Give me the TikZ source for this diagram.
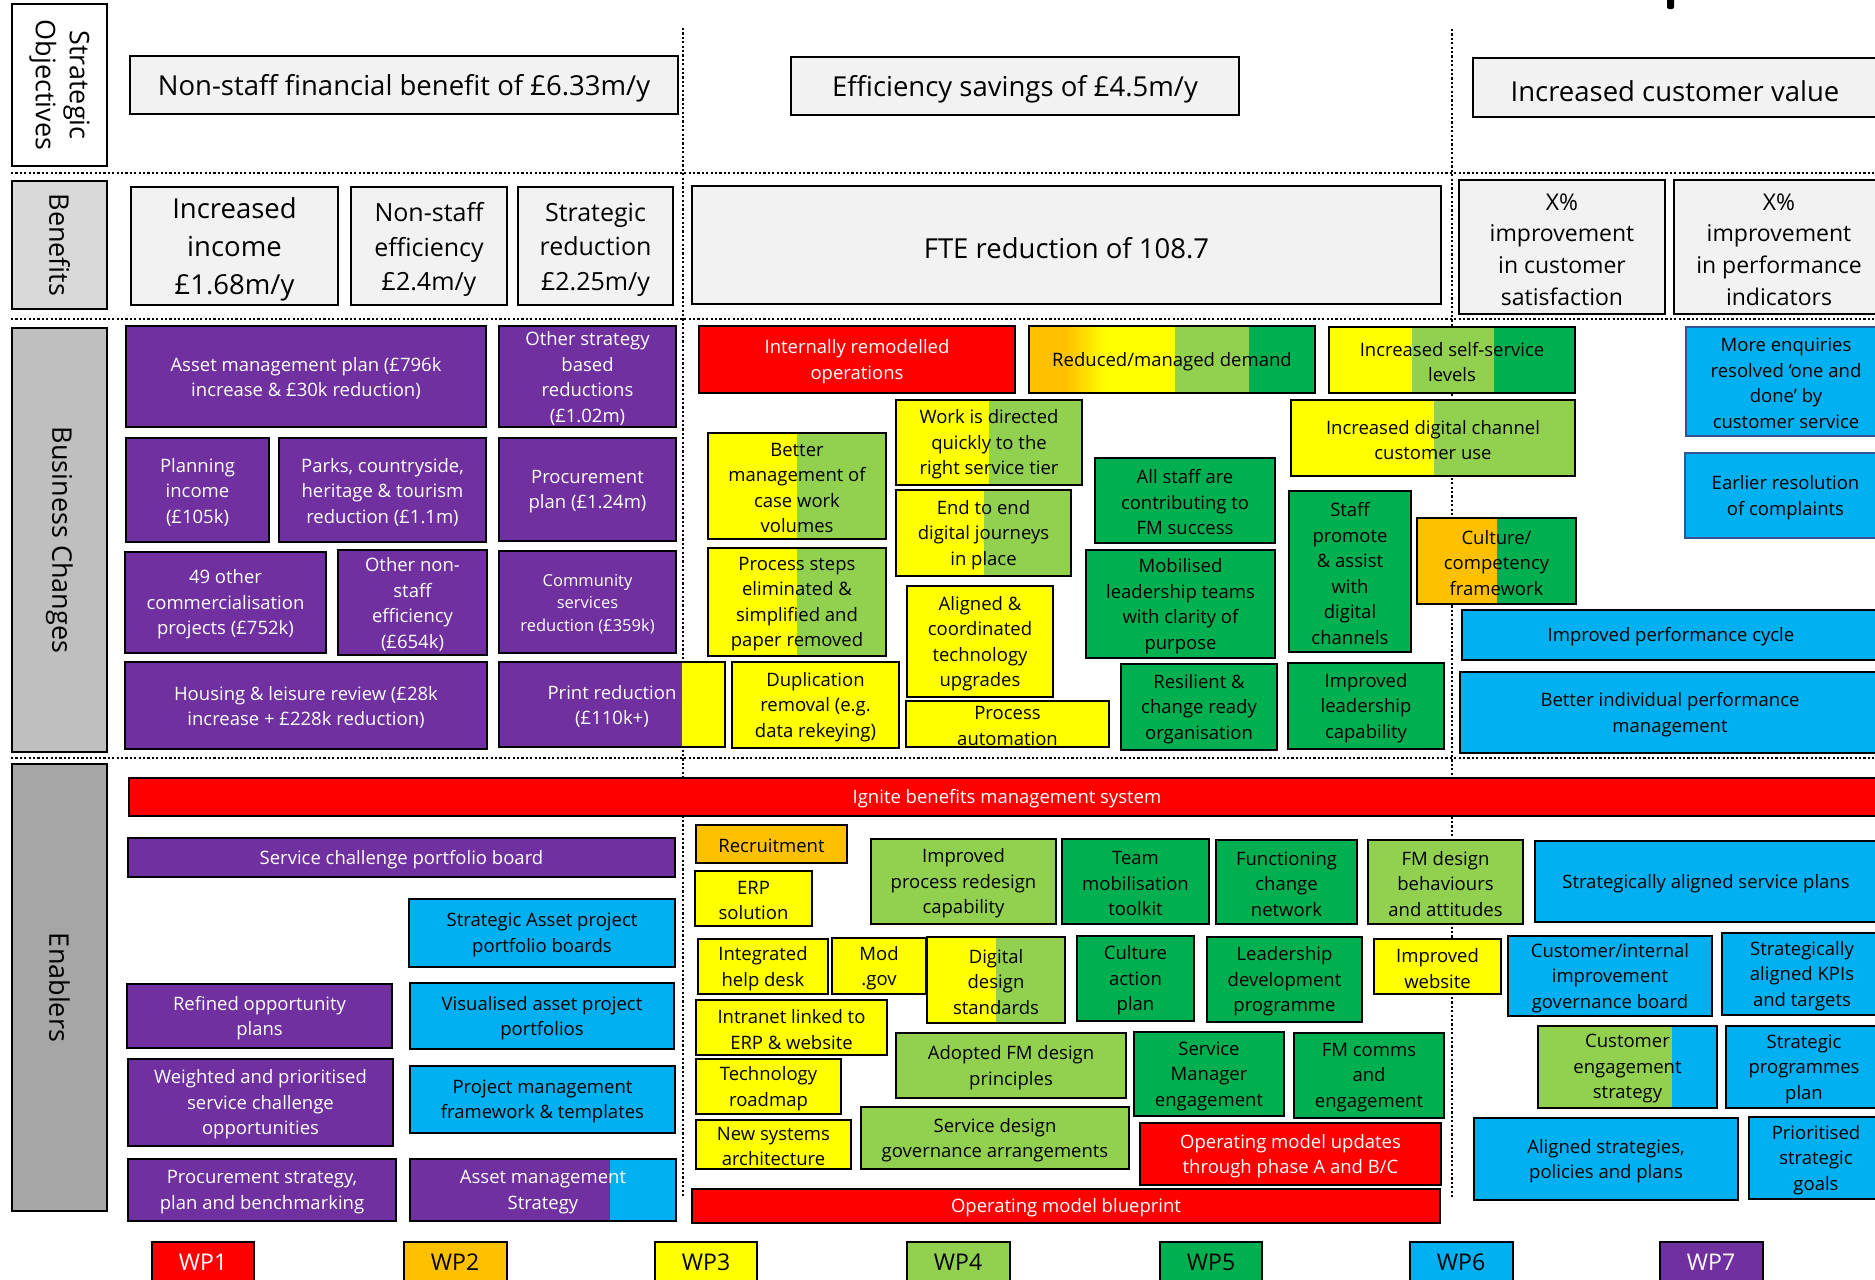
\documentclass[tikz,border=0pt]{standalone}
\usepackage{fontspec}
\setmainfont{Open Sans}

\definecolor{cPurple}{HTML}{7030A0}
\definecolor{cRed}{HTML}{FF0000}
\definecolor{cOrange}{HTML}{FFC000}
\definecolor{cYellow}{HTML}{FFFF00}
\definecolor{cLGreen}{HTML}{92D050}
\definecolor{cGreen}{HTML}{00B050}
\definecolor{cBlue}{HTML}{00B0F0}
\definecolor{cBlueLine}{HTML}{2F5597}
\definecolor{cPale}{HTML}{F2F2F2}
\definecolor{cGreyA}{HTML}{D9D9D9}
\definecolor{cGreyB}{HTML}{BFBFBF}
\definecolor{cGreyC}{HTML}{A6A6A6}

\tikzset{
  card/.style={rectangle, draw=black, line width=2.6pt, inner sep=0pt, outer sep=0pt},
  tbase/.style={align=center, inner sep=0pt, text=black},
  tb/.style={tbase, yshift=-2pt, font=\fontsize{18.5}{25.5}\selectfont},
  tw/.style={tb, text=white},
  tsm/.style={tw, font=\fontsize{16.5}{22.5}\selectfont},
  tobj/.style={tbase, yshift=-3.5pt, font=\fontsize{27.5}{38}\selectfont},
  tben/.style={tbase, yshift=-3.5pt, font=\fontsize{25}{34.5}\selectfont},
  tpct/.style={tbase, yshift=-2.5pt, font=\fontsize{23}{31.7}\selectfont},
  tlab/.style={tbase, rotate=-90, font=\fontsize{27}{34}\selectfont},
  twp/.style={tbase, font=\fontsize{23}{28}\selectfont},
  twpw/.style={twp, text=white},
  sepline/.style={line width=2.2pt, dash pattern=on 2.2pt off 2.2pt},
}

% box: name, box options, x1, y1, x2, y2, text style, text
\newcommand\card[8]{%
  \node[card,#2,minimum width={(#5)-(#3)},minimum height={(#6)-(#4)}] (#1)
    at ({((#3)+(#5))/2},{((#4)+(#6))/2}) {};
  \node[#7] (#1-t) at (#1.center) {#8};}
% plain colour band inside a box
\newcommand\band[5]{\fill[#1] (#2,#3) rectangle (#4,#5);}

\begin{document}
\begin{tikzpicture}[x=1pt,y=-1pt]
\useasboundingbox (0,0) rectangle (1875,1280);
\fill[white] (0,0) rectangle (1875,1280);
\clip (0,0) rectangle (1875,1280);

% row and column separators
\coordinate (h1a) at (11,173);  \coordinate (h1b) at (1875,173);
\coordinate (h2a) at (11,319);  \coordinate (h2b) at (1875,319);
\coordinate (h3a) at (11,758);  \coordinate (h3b) at (1875,758);
\coordinate (v1a) at (683,28);  \coordinate (v1b) at (683,1198);
\coordinate (v2a) at (1452,29); \coordinate (v2b) at (1452,1198);
\draw[sepline] (h1a) -- (h1b);
\draw[sepline] (h2a) -- (h2b);
\draw[sepline] (h3a) -- (h3b);
\draw[sepline] (v1a) -- (v1b);
\draw[sepline] (v2a) -- (v2b);

% mark at the top edge
\fill[black, rounded corners=2pt] (1667,-4) rectangle (1674,9);

% row labels
\card{labSO}{fill=white}{12}{4}{107}{166}{tlab}{Strategic\\Objectives}
\card{labBen}{fill=cGreyA}{12}{181}{107}{309}{tlab}{Benefits}
\card{labBC}{fill=cGreyB}{12}{328}{107}{752}{tlab}{Business Changes}
\card{labEn}{fill=cGreyC}{12}{764}{107}{1211}{tlab}{Enablers}

% strategic objectives
\card{objA}{fill=cPale, line width=2pt}{130}{56}{678}{114}{tobj}{Non-staff financial benefit of £6.33m/y}
\card{objB}{fill=cPale, line width=2pt}{791}{57}{1239}{115}{tobj}{Efficiency savings of £4.5m/y}
\card{objC}{fill=cPale, line width=2pt}{1473}{58}{1877}{117}{tobj}{Increased customer value}

% benefits
\card{benA}{fill=cPale}{131}{187}{338}{305}{tobj}{Increased\\income\\£1.68m/y}
\card{benB}{fill=cPale}{351}{187}{507}{305}{tben}{Non-staff\\efficiency\\£2.4m/y}
\card{benC}{fill=cPale}{518}{187}{673}{305}{tben}{Strategic\\reduction\\£2.25m/y}
\card{benD}{fill=cPale}{692}{186}{1441}{304}{tobj}{FTE reduction of 108.7}
\card{benE}{fill=cPale}{1459}{180}{1665}{314}{tpct}{X\%\\improvement\\in customer\\satisfaction}
\card{benF}{fill=cPale}{1674}{180}{1884}{314}{tpct}{X\%\\improvement\\in performance\\indicators}

% business changes: purple work package
\card{bcAsset}{fill=cPurple}{126}{326}{486}{427}{tw}{Asset management plan (£796k\\increase \& £30k reduction)}
\card{bcOther}{fill=cPurple}{499}{326}{676}{427}{tw}{Other strategy\\based\\reductions\\(£1.02m)}
\card{bcPlan}{fill=cPurple}{126}{438}{269}{542}{tw}{Planning\\income\\(£105k)}
\card{bcParks}{fill=cPurple}{279}{438}{486}{542}{tw}{Parks, countryside,\\heritage \& tourism\\reduction (£1.1m)}
\card{bcProc}{fill=cPurple}{499}{438}{676}{541}{tw}{Procurement\\plan (£1.24m)}
\card{bcComm}{fill=cPurple}{499}{551}{676}{653}{tsm}{Community\\services\\reduction (£359k)}
\card{bcFortyNine}{fill=cPurple}{125}{552}{326}{653}{tw}{49 other\\commercialisation\\projects (£752k)}
\card{bcNonStaff}{fill=cPurple}{338}{550}{487}{655}{tw}{Other non-\\staff\\efficiency\\(£654k)}
\card{bcHousing}{fill=cPurple}{125}{662}{487}{749}{tw}{Housing \& leisure review (£28k\\increase + £228k reduction)}
\band{cPurple}{499}{662}{682}{747}
\band{cYellow}{682}{662}{725}{747}
\card{bcPrint}{}{499}{662}{725}{747}{tw}{Print reduction\\(£110k+)}

% business changes: operations and people
\card{bcIntern}{fill=cRed}{699}{326}{1015}{393}{tw}{Internally remodelled\\operations}
\band{cOrange}{1029}{326}{1066}{393}
\shade[left color=cOrange, right color=cYellow] (1066,326) rectangle (1106,393);
\band{cYellow}{1106}{326}{1175}{393}
\band{cLGreen}{1175}{326}{1249}{393}
\band{cGreen}{1249}{326}{1315}{393}
\card{bcReduced}{}{1029}{326}{1315}{393}{tb}{Reduced/managed demand}
\band{cYellow}{1329}{327}{1412}{393}
\band{cLGreen}{1412}{327}{1494}{393}
\band{cGreen}{1494}{327}{1575}{393}
\card{bcSelf}{}{1329}{327}{1575}{393}{tb}{Increased self-service\\levels}
\band{cYellow}{896}{400}{989}{485}
\band{cLGreen}{989}{400}{1082}{485}
\card{bcWork}{}{896}{400}{1082}{485}{tb}{Work is directed\\quickly to the\\right service tier}
\band{cYellow}{1291}{400}{1434}{476}
\band{cLGreen}{1434}{400}{1575}{476}
\card{bcDigital}{}{1291}{400}{1575}{476}{tb}{Increased digital channel\\customer use}
\band{cYellow}{708}{433}{797}{539}
\band{cLGreen}{797}{433}{886}{539}
\card{bcBetter}{}{708}{433}{886}{539}{tb}{Better\\management of\\case work\\volumes}
\band{cYellow}{896}{490}{984}{576}
\band{cLGreen}{984}{490}{1071}{576}
\card{bcEndEnd}{}{896}{490}{1071}{576}{tb}{End to end\\digital journeys\\in place}
\card{bcAllStaff}{fill=cGreen}{1095}{458}{1275}{543}{tb}{All staff are\\contributing to\\FM success}
\card{bcPromote}{fill=cGreen}{1289}{491}{1411}{652}{tb}{Staff\\promote\\\& assist\\with\\digital\\channels}
\band{cOrange}{1417}{518}{1497}{604}
\band{cGreen}{1497}{518}{1576}{604}
\card{bcCulture}{}{1417}{518}{1576}{604}{tb}{Culture/\\competency\\framework}
\band{cYellow}{708}{548}{797}{656}
\band{cLGreen}{797}{548}{886}{656}
\card{bcSteps}{}{708}{548}{886}{656}{tb}{Process steps\\eliminated \&\\simplified and\\paper removed}
\card{bcMobil}{fill=cGreen}{1086}{550}{1275}{658}{tb}{Mobilised\\leadership teams\\with clarity of\\purpose}
\card{bcAligned}{fill=cYellow}{907}{586}{1053}{697}{tb}{Aligned \&\\coordinated\\technology\\upgrades}
\card{bcDup}{fill=cYellow}{732}{662}{899}{748}{tb}{Duplication\\removal (e.g.\\data rekeying)}
\card{bcAuto}{fill=cYellow}{906}{701}{1109}{747}{tb}{Process\\automation}
\card{bcResil}{fill=cGreen}{1121}{664}{1277}{750}{tb}{Resilient \&\\change ready\\organisation}
\card{bcLead}{fill=cGreen}{1288}{663}{1444}{749}{tb}{Improved\\leadership\\capability}

% business changes: customer and performance
\card{bcEnq}{fill=cBlue, draw=cBlueLine}{1686}{327}{1886}{436}{tb}{More enquiries\\resolved ‘one and\\done’ by\\customer service}
\card{bcEarly}{fill=cBlue, draw=cBlueLine}{1685}{453}{1886}{538}{tb}{Earlier resolution\\of complaints}
\card{bcCycle}{fill=cBlue}{1462}{610}{1880}{660}{tb}{Improved performance cycle}
\card{bcIndiv}{fill=cBlue}{1460}{672}{1880}{753}{tb}{Better individual performance\\management}

% enablers: shared bars
\card{enIgnite}{fill=cRed}{129}{778}{1885}{816}{tw}{Ignite benefits management system}
\card{enBlueprint}{fill=cRed}{692}{1189}{1440}{1223}{tw}{Operating model blueprint}

% enablers: left column
\card{enBoard}{fill=cPurple}{128}{838}{675}{877}{tw}{Service challenge portfolio board}
\card{enAssetBoards}{fill=cBlue}{409}{899}{675}{967}{tb}{Strategic Asset project\\portfolio boards}
\card{enRefined}{fill=cPurple}{127}{984}{392}{1048}{tw}{Refined opportunity\\plans}
\card{enVisual}{fill=cBlue}{410}{983}{674}{1049}{tb}{Visualised asset project\\portfolios}
\card{enWeighted}{fill=cPurple}{128}{1059}{393}{1146}{tw}{Weighted and prioritised\\service challenge\\opportunities}
\card{enPMF}{fill=cBlue}{410}{1066}{675}{1133}{tb}{Project management\\framework \& templates}
\card{enProcStrat}{fill=cPurple}{128}{1159}{396}{1221}{tw}{Procurement strategy,\\plan and benchmarking}
\band{cPurple}{410}{1159}{610}{1221}
\band{cBlue}{610}{1159}{676}{1221}
\card{enAMS}{}{410}{1159}{676}{1221}{tw}{Asset management\\Strategy}

% enablers: middle
\card{enRecruit}{fill=cOrange}{696}{825}{847}{863}{tb}{Recruitment}
\card{enERP}{fill=cYellow}{695}{871}{812}{926}{tb}{ERP\\solution}
\card{enRedesign}{fill=cLGreen}{871}{839}{1056}{924}{tb}{Improved\\process redesign\\capability}
\card{enTeam}{fill=cGreen}{1062}{839}{1209}{924}{tb}{Team\\mobilisation\\toolkit}
\card{enNetwork}{fill=cGreen}{1216}{840}{1357}{924}{tb}{Functioning\\change\\network}
\card{enBehav}{fill=cLGreen}{1368}{840}{1523}{924}{tb}{FM design\\behaviours\\and attitudes}
\card{enHelp}{fill=cYellow}{698}{939}{828}{994}{tb}{Integrated\\help desk}
\card{enModGov}{fill=cYellow}{832}{938}{926}{994}{tb}{Mod\\.gov}
\band{cYellow}{927}{937}{996}{1023}
\band{cLGreen}{996}{937}{1065}{1023}
\card{enDesignStd}{}{927}{937}{1065}{1023}{tb}{Digital\\design\\standards}
\card{enCultPlan}{fill=cGreen}{1077}{936}{1194}{1021}{tb}{Culture\\action\\plan}
\card{enLeadDev}{fill=cGreen}{1207}{937}{1362}{1022}{tb}{Leadership\\development\\programme}
\card{enWebsite}{fill=cYellow}{1374}{939}{1501}{994}{tb}{Improved\\website}
\card{enIntranet}{fill=cYellow}{696}{1000}{887}{1055}{tb}{Intranet linked to\\ERP \& website}
\card{enAdopted}{fill=cLGreen}{896}{1033}{1126}{1098}{tb}{Adopted FM design\\principles}
\card{enSMEng}{fill=cGreen}{1134}{1032}{1284}{1116}{tb}{Service\\Manager\\engagement}
\card{enComms}{fill=cGreen}{1294}{1033}{1444}{1118}{tb}{FM comms\\and\\engagement}
\card{enRoadmap}{fill=cYellow}{696}{1059}{841}{1114}{tb}{Technology\\roadmap}
\card{enArch}{fill=cYellow}{696}{1120}{851}{1169}{tb}{New systems\\architecture}
\card{enGovern}{fill=cLGreen}{861}{1107}{1129}{1169}{tb}{Service design\\governance arrangements}
\card{enOMU}{fill=cRed}{1140}{1123}{1441}{1185}{tw}{Operating model updates\\through phase A and B/C}

% enablers: right
\card{enPlans}{fill=cBlue}{1535}{841}{1877}{922}{tb}{Strategically aligned service plans}
\card{enGovBoard}{fill=cBlue}{1508}{936}{1712}{1016}{tb}{Customer/internal\\improvement\\governance board}
\card{enKPI}{fill=cBlue}{1722}{933}{1882}{1015}{tb}{Strategically\\aligned KPIs\\and targets}
\band{cLGreen}{1538}{1026}{1672}{1108}
\band{cBlue}{1672}{1026}{1717}{1108}
\card{enCustEng}{}{1538}{1026}{1717}{1108}{tb}{Customer\\engagement\\strategy}
\card{enProgPlan}{fill=cBlue}{1726}{1026}{1882}{1108}{tb}{Strategic\\programmes\\plan}
\card{enAlignStrat}{fill=cBlue}{1474}{1118}{1738}{1200}{tb}{Aligned strategies,\\policies and plans}
\card{enGoals}{fill=cBlue}{1749}{1117}{1883}{1199}{tb}{Prioritised\\strategic\\goals}

% work package key (boxes run past the lower edge)
\card{wpA}{fill=cRed}{152}{1242}{254}{1300}{tbase}{}
\card{wpB}{fill=cOrange}{404}{1242}{507}{1300}{tbase}{}
\card{wpC}{fill=cYellow}{655}{1242}{757}{1300}{tbase}{}
\card{wpD}{fill=cLGreen}{907}{1242}{1010}{1300}{tbase}{}
\card{wpE}{fill=cGreen}{1160}{1242}{1262}{1300}{tbase}{}
\card{wpF}{fill=cBlue}{1410}{1242}{1513}{1300}{tbase}{}
\card{wpG}{fill=cPurple}{1660}{1242}{1763}{1300}{tbase}{}
\node[twpw] (wpA-l) at (203,1262) {WP1};
\node[twp] (wpB-l) at (455,1262) {WP2};
\node[twp] (wpC-l) at (706,1262) {WP3};
\node[twp] (wpD-l) at (958,1262) {WP4};
\node[twp] (wpE-l) at (1211,1262) {WP5};
\node[twp] (wpF-l) at (1461,1262) {WP6};
\node[twpw] (wpG-l) at (1711,1262) {WP7};
\end{tikzpicture}
\end{document}
